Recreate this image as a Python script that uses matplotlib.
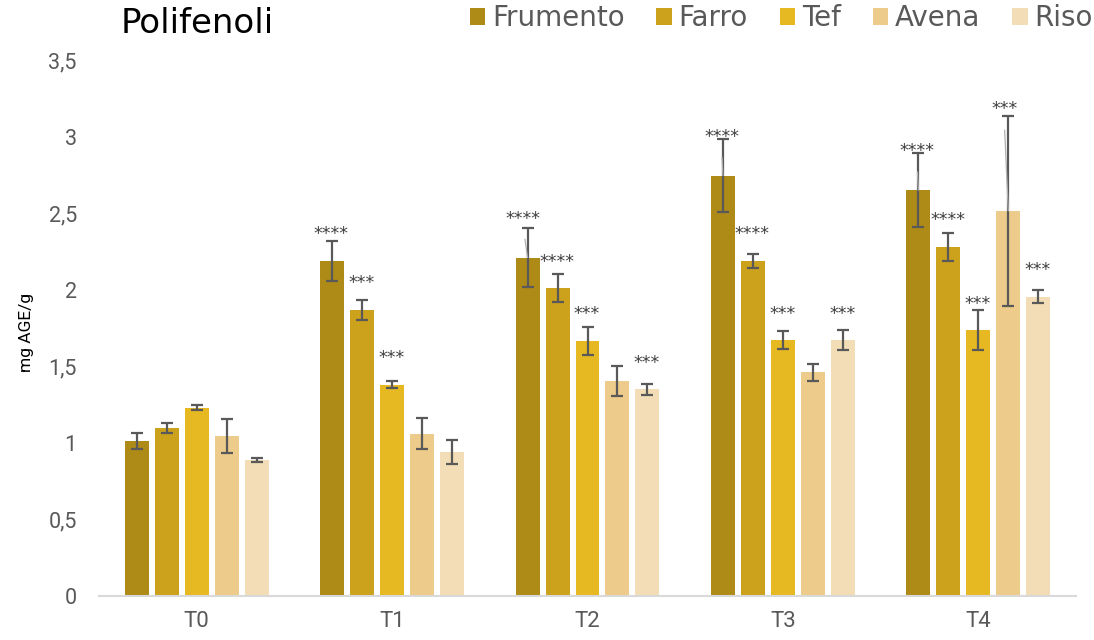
import matplotlib
matplotlib.use("Agg")
import matplotlib.pyplot as plt
from matplotlib.patches import Patch
import numpy as np

# ---- data ---------------------------------------------------------------
groups = ["T0", "T1", "T2", "T3", "T4"]
series = ["Frumento", "Farro", "Tef", "Avena", "Riso"]

frumento = [1.01, 2.19, 2.21, 2.745, 2.65]
farro = [1.095, 1.87, 2.01, 2.19, 2.28]
tef = [1.23, 1.38, 1.665, 1.67, 1.735]
avena = [1.045, 1.06, 1.405, 1.46, 2.515]
riso = [0.89, 0.94, 1.35, 1.67, 1.955]

frumento_err = [0.052, 0.13, 0.19, 0.24, 0.24]
farro_err = [0.033, 0.065, 0.09, 0.045, 0.093]
tef_err = [0.017, 0.025, 0.09, 0.06, 0.13]
avena_err = [0.11, 0.10, 0.097, 0.055, 0.62]
riso_err = [0.012, 0.08, 0.035, 0.065, 0.04]

frumento_sig = ["", "****", "****", "****", "****"]
farro_sig = ["", "***", "****", "****", "****"]
tef_sig = ["", "***", "***", "***", "***"]
avena_sig = ["", "", "", "", "***"]
riso_sig = ["", "", "***", "***", "***"]

y_ticks = [0, 0.5, 1, 1.5, 2, 2.5, 3, 3.5]
y_tick_labels = ["0", "0,5", "1", "1,5", "2", "2,5", "3", "3,5"]

values = [frumento, farro, tef, avena, riso]
errors = [frumento_err, farro_err, tef_err, avena_err, riso_err]
signif = [frumento_sig, farro_sig, tef_sig, avena_sig, riso_sig]
colors = ["#AE8A17", "#CCA11C", "#E6B821", "#EDCB8A", "#F2DDB6"]

# labels pushed higher (with a leader line) because of tall error bars:
# (series index, group index) -> (dx pt, extra lift pt)
raised = {(0, 2): (-3, 9), (0, 3): (-1, 9), (0, 4): (-1, 9), (3, 4): (-3, 54)}

# ---- figure -------------------------------------------------------------
W, H = 1094, 640
fig = plt.figure(figsize=(W / 100, H / 100), dpi=100)
ax = fig.add_axes([99 / W, 1 - 596 / H, 977 / W, 536 / H])

x = np.arange(len(groups))
slot = 0.1535
bar_w = slot * 0.8
n = len(series)

for i, (name, vals, errs, col) in enumerate(zip(series, values, errors, colors)):
    pos = x + (i - (n - 1) / 2) * slot
    ax.bar(pos, vals, width=bar_w, color=col, label=name, zorder=2)
    ax.errorbar(pos, vals, yerr=errs, fmt="none", ecolor="#595959",
                elinewidth=1.6, capsize=4.3, capthick=1.6, zorder=3)
    for j, lab in enumerate(signif[i]):
        if not lab:
            continue
        dx, extra = raised.get((i, j), (-0.5, 0))
        lift = 22.7 + extra - 7.2
        kw = {}
        if (i, j) in raised:
            kw["arrowprops"] = dict(arrowstyle="-", color="#b0b0b0", lw=0.9,
                                    shrinkA=6.5, shrinkB=0, relpos=(0.5, 0))
        ax.annotate(lab, xy=(pos[j], vals[j]), xytext=(dx, lift),
                    textcoords="offset points", ha="center", va="baseline",
                    fontsize=12.5, color="#404040", family="DejaVu Sans",
                    zorder=4, **kw)

ax.set_xlim(-0.5, len(groups) - 0.5)
ax.set_ylim(0, 3.5)
ax.set_xticks(x)
ax.set_xticklabels(groups, family=["Liberation Sans Narrow", "Roboto"],
                   fontsize=16, color="#595959")
ax.set_yticks(y_ticks)
ax.set_yticklabels(y_tick_labels, family="Roboto", fontsize=15.5,
                   color="#595959")
ax.tick_params(axis="both", length=0)
ax.tick_params(axis="y", pad=16)
ax.tick_params(axis="x", pad=11)

for side in ["top", "right", "left"]:
    ax.spines[side].set_visible(False)
ax.spines["bottom"].set_color("#d9d9d9")
ax.spines["bottom"].set_linewidth(1.5)

fig.text(121 / W, 1 - 33 / H, "Polifenoli", fontsize=24.5, color="black",
         family="DejaVu Sans", ha="left", va="baseline")
fig.text(27 / W, 1 - 332 / H, "mg AGE/g", fontsize=12.5, color="black",
         family="Roboto", rotation=90, ha="center", va="center")

handles = [Patch(facecolor=c, edgecolor="none") for c in colors]
fig.legend(handles, series, loc="center right",
           bbox_to_anchor=(1093 / W, 1 - 18 / H), ncol=5, frameon=False,
           prop={"family": "DejaVu Sans", "size": 20},
           labelcolor="#595959", handlelength=0.55, handleheight=0.55,
           handletextpad=0.25, columnspacing=1.15, borderpad=0,
           borderaxespad=0)

fig.savefig("out.png", dpi=100)
